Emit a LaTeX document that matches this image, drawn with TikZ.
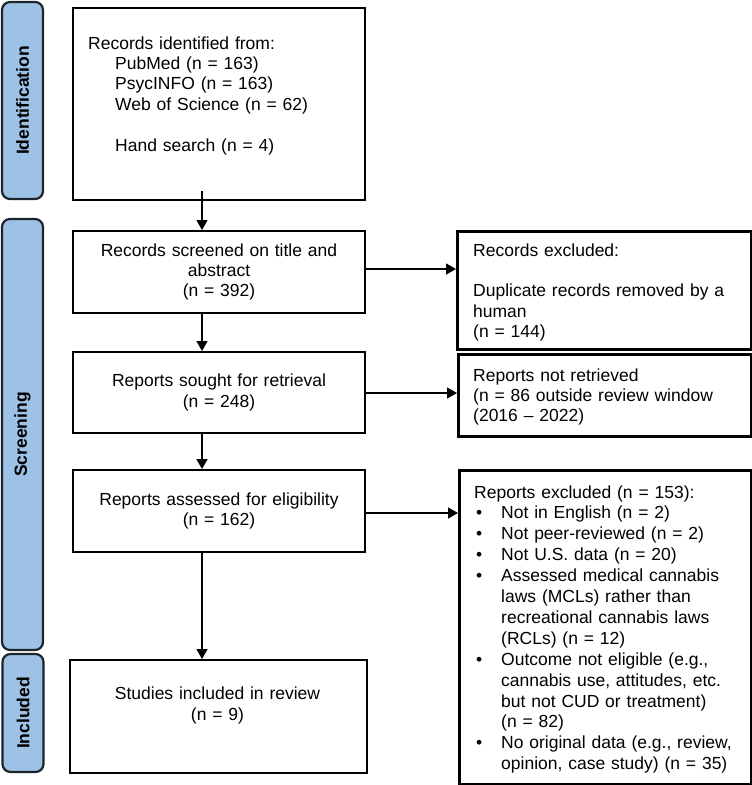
\documentclass[tikz,border=0pt]{standalone}
\usepackage{fontspec}
\setmainfont{Liberation Sans}
\usetikzlibrary{arrows.meta,calc}
\definecolor{phaseblue}{RGB}{158,194,230}
\definecolor{phaseedge}{RGB}{30,36,44}
\newcommand\pbul{\makebox[27pt][l]{\hspace{2pt}\textbullet}}
\newcommand\pind{\hspace*{27pt}}
\begin{document}
\begin{tikzpicture}[x=1pt,y=-1pt,
  txt/.style={font=\fontsize{17.5}{20.4}\selectfont, inner sep=0pt},
  mainbox/.style={draw=black, line width=2pt, fill=white, inner sep=0pt,
    font=\fontsize{17.5}{20.4}\selectfont, align=center},
  sidebox/.style={draw=black, line width=2.6pt, fill=white, inner sep=0pt, anchor=north west},
  phase/.style={draw=phaseedge, fill=phaseblue, line width=2.2pt, rounded corners=8pt,
    rotate=90, inner sep=0pt, font=\fontsize{17.5}{20}\selectfont\bfseries},
  arr/.style={line width=1.3pt, -{Triangle[length=10pt,width=11pt]}}]

\useasboundingbox (0,0) rectangle (752,785);

% phase labels
\node[phase, minimum width=197pt, minimum height=41pt] (P1) at (22.5,100.5) {Identification};
\node[phase, minimum width=431pt, minimum height=41pt] (P2) at (22.5,434.5) {Screening};
\node[phase, minimum width=118pt, minimum height=41pt] (P3) at (23,713) {Included};

% main column
\node[mainbox, anchor=north west, minimum width=292pt, minimum height=192pt] (B1) at (72,7) {};
\node[txt, anchor=base west, text width=270pt, align=left] (T1) at (88,49)
  {Records identified from:\\
   \pind PubMed (n = 163)\\
   \pind PsycINFO (n = 163)\\
   \pind Web of Science (n = 62)\\[20.4pt]
   \pind Hand search (n = 4)};

\node[mainbox, anchor=north west, minimum width=292pt, minimum height=82pt, text width=280pt] (B2) at (72,230)
  {Records screened on title and\\abstract\\(n = 392)};
\node[mainbox, anchor=north west, minimum width=292pt, minimum height=81pt, text width=280pt] (B3) at (72,351)
  {Reports sought for retrieval\\(n = 248)};
\node[mainbox, anchor=north west, minimum width=292pt, minimum height=82pt, text width=280pt] (B4) at (72,469)
  {Reports assessed for eligibility\\(n = 162)};
\node[mainbox, anchor=north west, minimum width=297pt, minimum height=113pt] (B5) at (69,659) {};
\node[txt, text width=280pt, align=center] (T5) at (217.5,705.5)
  {Studies included in review\\(n = 9)};

% right column
\node[sidebox, minimum width=294pt, minimum height=118pt] (R1) at (456,230) {};
\node[txt, anchor=base west, text width=275pt, align=left] (TR1) at (473,256)
  {Records excluded:\\[20.4pt]
   Duplicate records removed by a\\
   human\\
   (n = 144)};

\node[sidebox, minimum width=293pt, minimum height=82pt] (R2) at (457,353) {};
\node[txt, anchor=base west, text width=275pt, align=left] (TR2) at (473,381)
  {Reports not retrieved\\
   (n = 86 outside review window\\
   (2016 – 2022)};

\node[sidebox, minimum width=292pt, minimum height=314pt] (R3) at (458,469) {};
\node[txt, anchor=base west, text width=280pt, align=left,
      font=\fontsize{17.5}{20.9}\selectfont] (TR3) at (474,498)
  {Reports excluded (n = 153):\\
   \pbul Not in English (n = 2)\\
   \pbul Not peer-reviewed (n = 2)\\
   \pbul Not U.S. data (n = 20)\\
   \pbul Assessed medical cannabis\\
   \pind laws (MCLs) rather than\\
   \pind recreational cannabis laws\\
   \pind (RCLs) (n = 12)\\
   \pbul Outcome not eligible (e.g.,\\
   \pind cannabis use, attitudes, etc.\\
   \pind but not CUD or treatment)\\
   \pind (n = 82)\\
   \pbul No original data (e.g., review,\\
   \pind opinion, case study) (n = 35)};

% connectors
\coordinate (ax) at (202,0);
\draw[arr] ($(ax |- B1.south)+(0,-10)$) -- (ax |- B2.north);
\draw[arr] (ax |- B2.south) -- (ax |- B3.north);
\draw[arr] (ax |- B3.south) -- (ax |- B4.north);
\draw[arr] (ax |- B4.south) -- (ax |- B5.north);

\draw[arr] (B2.east |- 0,269) -- (R1.west |- 0,269);
\draw[arr] (B3.east |- 0,393) -- (R2.west |- 0,393);
\draw[arr] (B4.east |- 0,513) -- (R3.west |- 0,513);
\end{tikzpicture}
\end{document}
